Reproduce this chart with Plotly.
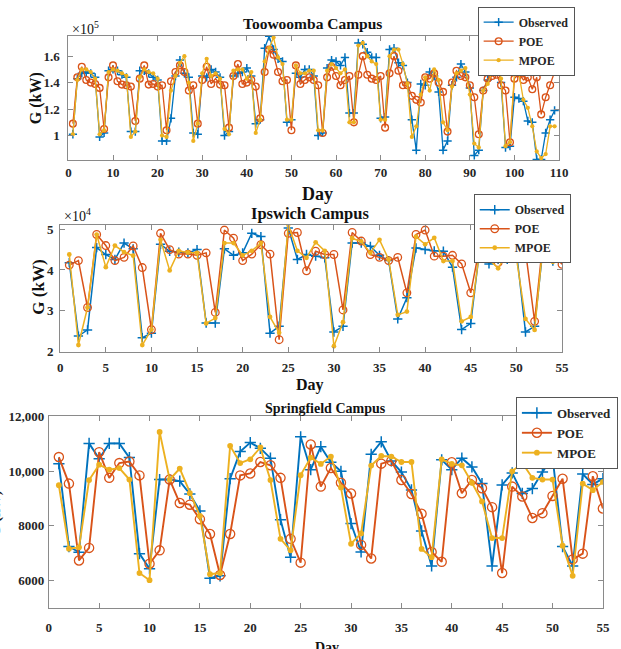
import plotly.graph_objects as go

# ---------------- data ----------------
# Toowoomba (values in units of 1e5 kW), days 1..109
days_t = list(range(1, 110))
obs_t = [1.01, 1.43, 1.47, 1.48, 1.47, 1.44, 0.99, 1.02, 1.49, 1.50,
         1.49, 1.46, 1.44, 1.03, 1.03, 1.49, 1.49, 1.47, 1.44, 1.42,
         0.96, 0.96, 1.13, 1.45, 1.57, 1.47, 1.44, 1.02, 1.01, 1.45,
         1.44, 1.50, 1.48, 1.44, 1.00, 1.03, 1.45, 1.47, 1.48, 1.51,
         1.45, 1.09, 1.12, 1.66, 1.75, 1.65, 1.58, 1.56, 1.10, 1.12,
         1.47, 1.44, 1.50, 1.50, 1.45, 1.00, 1.02, 1.51, 1.57, 1.56,
         1.53, 1.59, 1.17, 1.17, 1.70, 1.69, 1.63, 1.59, 1.59, 1.13,
         1.14, 1.65, 1.66, 1.55, 1.53, 1.40, 1.12, 0.89, 1.39, 1.38,
         1.48, 1.45, 1.33, 0.89, 0.96, 1.38, 1.44, 1.54, 1.48, 1.36,
         0.85, 0.89, 1.34, 1.42, 1.56, 1.60, 1.40, 0.91, 0.92, 1.29,
         1.28, 1.26, 1.11, 1.10, 0.82, 0.82, 1.02, 1.12, 1.19]
poe_t = [1.09, 1.44, 1.52, 1.42, 1.40, 1.39, 1.36, 1.05, 1.44, 1.53,
         1.41, 1.385, 1.38, 1.37, 1.11, 1.43, 1.53, 1.385, 1.39, 1.37,
         1.38, 1.04, 1.41, 1.48, 1.53, 1.48, 1.34, 1.38, 1.09, 1.42,
         1.52, 1.39, 1.43, 1.385, 1.38, 1.06, 1.45, 1.54, 1.39, 1.40,
         1.42, 1.37, 1.13, 1.48, 1.65, 1.61, 1.48, 1.41, 1.42, 1.04,
         1.53, 1.39, 1.42, 1.44, 1.42, 1.38, 1.02, 1.44, 1.52, 1.45,
         1.38, 1.42, 1.45, 1.10, 1.46, 1.60, 1.46, 1.43, 1.42, 1.45,
         1.06, 1.47, 1.60, 1.49, 1.38, 1.38, 1.30, 1.27, 1.25, 1.44,
         1.43, 1.47, 1.40, 1.33, 1.03, 1.40, 1.49, 1.45, 1.44, 1.38,
         1.29, 1.01, 1.34, 1.43, 1.45, 1.46, 1.38, 1.34, 0.95, 1.43,
         1.47, 1.42, 1.44, 1.35, 1.44, 1.16, 1.29, 1.38, 1.48]
mpoe_t = [1.01, 1.42, 1.50, 1.50, 1.48, 1.43, 1.01, 1.04, 1.48, 1.50,
          1.49, 1.47, 1.45, 0.99, 1.03, 1.44, 1.50, 1.48, 1.47, 1.43,
          1.00, 0.99, 1.34, 1.45, 1.55, 1.60, 1.40, 0.96, 1.09, 1.47,
          1.58, 1.45, 1.47, 1.43, 1.05, 1.01, 1.49, 1.50, 1.50, 1.43,
          1.48, 1.02, 1.12, 1.56, 1.66, 1.74, 1.59, 1.54, 1.12, 1.12,
          1.53, 1.47, 1.47, 1.49, 1.49, 1.04, 1.04, 1.49, 1.54, 1.51,
          1.47, 1.50, 1.10, 1.10, 1.68, 1.70, 1.60, 1.56, 1.54, 1.12,
          1.12, 1.60, 1.65, 1.65, 1.54, 1.39, 0.99, 1.07, 1.31, 1.44,
          1.34, 1.50, 1.42, 1.10, 1.04, 1.37, 1.47, 1.49, 1.51, 1.31,
          0.94, 0.91, 1.34, 1.39, 1.48, 1.55, 1.43, 0.92, 0.95, 1.47,
          1.47, 1.27, 1.21, 1.07, 0.88, 0.83, 0.86, 1.07, 1.07]

# Ipswich (values in units of 1e4 kW), days 1..55
days_i = list(range(1, 56))
obs_i = [4.18, 2.38, 2.53, 4.55, 4.38, 4.26, 4.66, 4.52, 2.34, 2.45,
         4.63, 4.46, 4.44, 4.42, 4.50, 2.70, 2.70, 4.52, 4.36, 4.42,
         4.90, 4.82, 2.45, 2.62, 5.03, 4.26, 4.38, 4.34, 4.30, 2.48,
         2.62, 4.66, 4.66, 4.58, 4.36, 4.23, 2.80, 3.32, 4.54, 4.50,
         4.47, 4.46, 4.07, 2.54, 2.69, 4.55, 4.15, 4.26, 4.26, 4.47,
         2.48, 2.62, 4.70, 4.22, 4.46]
poe_i = [4.12, 4.23, 3.08, 4.87, 4.60, 4.23, 4.31, 4.59, 4.06, 2.54,
         4.90, 4.50, 4.39, 4.39, 4.36, 4.42, 2.96, 4.98, 4.78, 4.23,
         4.39, 4.62, 4.39, 2.29, 4.90, 4.92, 3.98, 4.46, 4.38, 4.38,
         3.02, 4.92, 4.71, 4.38, 4.31, 4.23, 4.31, 3.44, 4.87, 4.98,
         4.34, 4.34, 4.36, 4.15, 3.44, 4.60, 4.30, 4.18, 4.34, 4.46,
         4.47, 2.74, 4.90, 4.42, 4.14]
mpoe_i = [4.38, 2.16, 3.08, 4.87, 4.07, 4.60, 4.44, 4.35, 2.16, 2.54,
          4.74, 3.99, 4.47, 4.43, 4.42, 2.69, 2.82, 4.66, 4.66, 4.36,
          4.47, 4.66, 2.85, 2.46, 5.11, 4.47, 4.30, 4.68, 4.47, 2.13,
          2.72, 4.78, 4.70, 4.42, 4.74, 4.26, 2.90, 2.98, 4.82, 4.63,
          4.79, 4.22, 4.22, 2.74, 2.85, 4.50, 4.26, 4.04, 4.42, 4.31,
          2.80, 2.53, 4.80, 4.20, 4.26]

# Springfield (kW), days 1..55
days_s = list(range(1, 56))
obs_s = [10270, 7240, 7030, 11010, 10450, 11010, 11010, 10490, 6980, 6430,
         9690, 9690, 9630, 9160, 8540, 6080, 6170, 9720, 10710, 11040,
         10830, 10470, 8220, 6850, 11250, 10050, 10890, 10320, 9990, 8080,
         7040, 10610, 11070, 10370, 9960, 9310, 7810, 6530, 10410, 10050,
         10470, 10150, 9540, 6530, 9490, 9930, 9180, 9360, 9960, 10530,
         7240, 6530, 9890, 9510, 9720]
poe_s = [10510, 9540, 6730, 7190, 10690, 9750, 10290, 10350, 9840, 6610,
         7100, 9690, 8830, 8770, 8240, 7700, 6200, 7700, 9840, 9910,
         10330, 10210, 9750, 7520, 6650, 10970, 9430, 10110, 9570, 9180,
         7300, 6800, 10270, 10370, 9670, 9160, 8440, 7040, 6680, 10320,
         9190, 9670, 9370, 8680, 6270, 9430, 9070, 8280, 8460, 9090,
         9720, 6770, 6980, 9810, 8630]
mpoe_s = [9480, 7160, 7210, 9670, 10230, 10050, 10110, 9690, 6270, 6010,
          11430, 9690, 10090, 9190, 8360, 6230, 6270, 10920, 10290, 10430,
          10860, 9670, 7520, 7100, 9850, 10490, 10260, 10530, 9400, 7340,
          7720, 10200, 10550, 10530, 10330, 10330, 7150, 6850, 10430, 10260,
          10210, 9570, 8890, 7550, 7550, 9990, 10290, 9750, 9690, 9690,
          7270, 6170, 9540, 9300, 9600]

series_names = ["Observed", "POE", "MPOE"]
colors = ["#0072BD", "#D95319", "#EDB120"]

# ---------------- figure ----------------
W, H = 621, 649
def px(x):
    return x / W
def py(y):
    return 1 - y / H

SERIF = "Liberation Serif, Times New Roman, serif"
AX_COLOR = "#8a8a8a"
TXT = "#262626"

fig = go.Figure()

# (days, series, xaxis, yaxis, legend, marker scale, line width)
panels = [
    (days_t, [obs_t, poe_t, mpoe_t], "x", "y", "legend", 0.85, 1.3),
    (days_i, [obs_i, poe_i, mpoe_i], "x2", "y2", "legend2", 0.95, 1.5),
    (days_s, [obs_s, poe_s, mpoe_s], "x3", "y3", "legend3", 1.15, 1.9),
]
base_markers = [
    ("cross-thin-open", 7, 1.5),
    ("circle-open", 8, 1.3),
    ("circle", 5, 0),
]
for days, sers, xa, ya, lg, sc, lw in panels:
    for name, vals, col, (sym, sz, mlw) in zip(series_names, sers, colors, base_markers):
        fig.add_trace(go.Scatter(
            x=days, y=vals, name=name, mode="lines+markers",
            line=dict(color=col, width=lw),
            marker=dict(symbol=sym, size=sz * sc, color=col,
                        line=dict(width=mlw, color=col)),
            xaxis=xa, yaxis=ya, legend=lg, showlegend=True))

def axis_common(standoff, fs=13):
    return dict(
        showgrid=False, zeroline=False, showline=True, linecolor=AX_COLOR,
        linewidth=1, mirror="ticks", ticks="inside", ticklen=5,
        tickcolor=AX_COLOR, tickwidth=1, ticklabelstandoff=standoff,
        tickfont=dict(family=SERIF, size=fs, color=TXT, weight="bold"),
    )

fig.update_layout(
    width=W, height=H, margin=dict(l=0, r=0, t=0, b=0),
    paper_bgcolor="white", plot_bgcolor="white",
    xaxis=dict(axis_common(0), domain=[px(66.7), px(567)], range=[0, 110],
               tickvals=list(range(0, 111, 10)), anchor="y"),
    yaxis=dict(axis_common(5), domain=[py(156.7), py(29.3)], range=[0.815, 1.755],
               tickvals=[1.0, 1.2, 1.4, 1.6], ticktext=["1", "1.2", "1.4", "1.6"],
               anchor="x"),
    xaxis2=dict(axis_common(4), domain=[px(58.3), px(570)], range=[0, 55],
                tickvals=list(range(0, 56, 5)), anchor="y2"),
    yaxis2=dict(axis_common(3), domain=[py(352.7), py(223.3)], range=[2, 5.1],
                tickvals=[2, 3, 4, 5], anchor="x2"),
    xaxis3=dict(axis_common(8), domain=[px(46.7), px(611.7)], range=[0, 55],
                tickvals=list(range(0, 56, 5)), anchor="y3"),
    yaxis3=dict(axis_common(1), domain=[py(615), py(419)], range=[5000, 12000],
                tickvals=[6000, 8000, 10000, 12000],
                ticktext=["6000", "8000", "10,000", "12,000"], anchor="x3"),
)

def legend_style(x, y, fs):
    return dict(
        bgcolor="white", bordercolor="#555555", borderwidth=1,
        font=dict(family=SERIF, size=fs, color=TXT, weight="bold"),
        xanchor="left", yanchor="middle", itemwidth=30, tracegroupgap=0,
        x=x, y=y)

fig.update_layout(
    legend=legend_style(px(484), py(35), 12),
    legend2=legend_style(px(480), py(227), 12),
    legend3=legend_style(px(523), py(436), 13),
)

def ann(text, x, y, size=13, bold=True, angle=0, xanchor="center", yanchor="middle"):
    fig.add_annotation(
        text=text, x=px(x), y=py(y), xref="paper", yref="paper",
        showarrow=False, textangle=angle, xanchor=xanchor, yanchor=yanchor,
        font=dict(family=SERIF, size=size, color="#111111",
                  weight="bold" if bold else "normal"))

# titles
ann("Toowoomba Campus", 316, 17, size=15.5)
ann("Ipswich Campus", 313, 211, size=16.5)
ann("Springfield Campus", 329, 411, size=14)
# x labels
ann("Day", 321, 191, size=18)
ann("Day", 313, 387, size=16)
ann("Day", 330, 646, size=14, yanchor="top")
# y labels
ann("G (kW)", 33, 93, size=16, angle=-90)
ann("G (kW)", 36, 287, size=17, angle=-90)
ann("G (kW)", -7, 518, size=14, angle=-90)
# exponent labels
ann("×10<sup>5</sup>", 68, 21, size=14, bold=False, xanchor="left")
ann("×10<sup>4</sup>", 60, 213, size=14, bold=False, xanchor="left")

fig.write_html("out.html")
